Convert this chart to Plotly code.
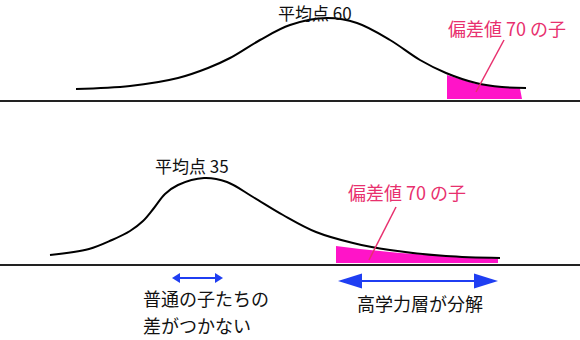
import plotly.graph_objects as go

# ---- data (illustration, pixel-space coordinates) ----
top_curve_x = [76, 130, 178, 208, 230, 260, 290, 327, 357, 390, 420, 446, 476, 502, 526]
top_curve_y = [89, 86, 78, 68, 58, 40, 25, 18, 23, 40, 60, 73, 83, 87, 88]

bot_curve_x = [50, 89, 112, 130, 143, 154, 165, 178, 204, 227, 253, 283, 316, 353, 390, 446, 500]
bot_curve_y = [255, 249, 240, 231, 221, 208, 194, 185, 178, 182, 197, 215, 232, 243, 250, 256, 258]

top_fill_x = [447, 447, 460, 476, 500, 520, 522, 447]
top_fill_y = [99, 75, 79, 84, 87, 88.5, 99, 99]

bot_fill_x = [336, 336, 360, 400, 450, 498, 498, 336]
bot_fill_y = [263, 246, 249, 253, 256, 258.5, 263, 263]

baseline_y = [101, 265]

pointer_top = ([504, 476], [40, 92])
pointer_bot = ([396, 369], [207, 260])

labels_black = ["平均点 60", "平均点 35"]
labels_black_pos = [(315, 12), (192, 165)]
label_pink = "偏差値 70 の子"
labels_pink_pos = [(507, 28), (407, 192)]

arrow_small = (172, 223, 278)   # x0, x1, y
arrow_big = (338, 498, 281)

bottom_texts = ["普通の子たちの", "差がつかない", "高学力層が分解"]
bottom_texts_pos = [(142, 298, "left"), (142, 325, "left"), (420, 303, "center")]

PINK_FILL = "#ff14c8"
PINK_TEXT = "#e8306e"
BLUE = "#1f3ef2"
FONT = "Noto Sans CJK JP"

fig = go.Figure()

# baselines
for by in baseline_y:
    fig.add_trace(go.Scatter(x=[0, 580], y=[by, by], mode="lines",
                             line=dict(color="#222222", width=2), hoverinfo="skip"))

# pink fills
for fx, fy in [(top_fill_x, top_fill_y), (bot_fill_x, bot_fill_y)]:
    fig.add_trace(go.Scatter(x=fx, y=fy, mode="lines", fill="toself",
                             fillcolor=PINK_FILL, line=dict(width=0, color=PINK_FILL),
                             hoverinfo="skip"))

# curves
for cx, cy in [(top_curve_x, top_curve_y), (bot_curve_x, bot_curve_y)]:
    fig.add_trace(go.Scatter(x=cx, y=cy, mode="lines",
                             line=dict(color="black", width=2, shape="spline", smoothing=1.0),
                             hoverinfo="skip"))

# pointer lines
for px, py in [pointer_top, pointer_bot]:
    fig.add_trace(go.Scatter(x=px, y=py, mode="lines",
                             line=dict(color=PINK_TEXT, width=1.5), hoverinfo="skip"))

# double arrows
def add_double_arrow(x0, x1, y, head_len, head_half):
    fig.add_trace(go.Scatter(x=[x0 + head_len * 0.5, x1 - head_len * 0.5], y=[y, y],
                             mode="lines", line=dict(color=BLUE, width=2), hoverinfo="skip"))
    for tip, d in [(x0, 1), (x1, -1)]:
        fig.add_trace(go.Scatter(
            x=[tip, tip + d * head_len, tip + d * head_len, tip],
            y=[y, y - head_half, y + head_half, y],
            mode="lines", fill="toself", fillcolor=BLUE,
            line=dict(color=BLUE, width=0), hoverinfo="skip"))

add_double_arrow(*arrow_small, 8, 5)
add_double_arrow(*arrow_big, 24, 7.5)

annotations = []
for t, (x, y) in zip(labels_black, labels_black_pos):
    annotations.append(dict(x=x, y=y, text=t, showarrow=False, xanchor="center", yanchor="middle",
                            borderpad=0, font=dict(family=FONT, size=17, color="#111111")))
for (x, y) in labels_pink_pos:
    annotations.append(dict(x=x, y=y, text=label_pink, showarrow=False, xanchor="center", yanchor="middle",
                            borderpad=0, font=dict(family=FONT, size=18, color=PINK_TEXT)))
for t, (x, y, anc) in zip(bottom_texts, bottom_texts_pos):
    annotations.append(dict(x=x, y=y, text=t, showarrow=False, xanchor=anc, yanchor="middle",
                            borderpad=0, font=dict(family=FONT, size=18, color="#111111")))

fig.update_layout(
    width=580, height=340,
    margin=dict(l=0, r=0, t=0, b=0),
    paper_bgcolor="white", plot_bgcolor="white",
    showlegend=False,
    xaxis=dict(range=[0, 580], visible=False, fixedrange=True),
    yaxis=dict(range=[340, 0], visible=False, fixedrange=True),
    annotations=annotations,
)

fig.write_html("out.html")
